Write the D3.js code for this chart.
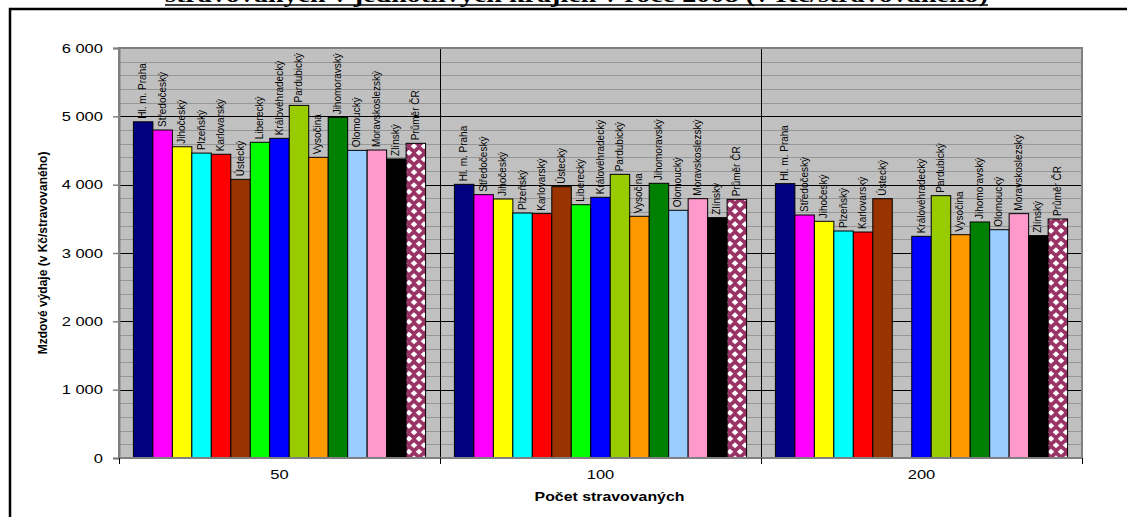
<!DOCTYPE html>
<html><head><meta charset="utf-8">
<script src="https://cdn.jsdelivr.net/npm/d3@7"></script>
<style>
html,body{margin:0;padding:0;background:#fff;overflow:hidden;}
svg{display:block;}
</style></head>
<body>
<svg id="chart" width="1127" height="517"></svg>
<script>
const categories = ["50", "100", "200"];
const regions = ["Hl. m. Praha","Středočeský","Jihočeský","Plzeňský","Karlovarský","Ústecký","Liberecký","Královéhradecký","Pardubický","Vysočina","Jihomoravský","Olomoucký","Moravskoslezský","Zlínský","Průměr ČR"];
const values50  = [4920, 4800, 4555, 4462, 4445, 4078, 4620, 4678, 5160, 4400, 4985, 4502, 4507, 4376, 4605];
const values100 = [4005, 3854, 3790, 3585, 3576, 3971, 3707, 3815, 4151, 3537, 4020, 3625, 3795, 3517, 3785];
const values200 = [4015, 3556, 3464, 3322, 3307, 3795, null, 3244, 3839, 3268, 3454, 3341, 3576, 3254, 3498];
const colors = ["#000080","#ff00ff","#ffff00","#00ffff","#ff0000","#993300","#00ff00","#0000ff","#99cc00","#ff9900","#008000","#99ccff","#ff99cc","#000000","url(#diam)"];
const yTicks = [0, 1000, 2000, 3000, 4000, 5000, 6000];
const yMinor = d3.range(0, 6001, 200);
const titleText = "stravovaných v jednotlivých krajích v roce 2008 (v Kč/stravovaného)";
const yTitle = "Mzdové výdaje (v Kč/stravovaného)";
const xTitle = "Počet stravovaných";

const seriesValues = [values50, values100, values200];
const svg = d3.select("#chart");
const L = 119, R = 1082, T = 48, B = 458;
const SANS = "Liberation Sans, Arial, sans-serif";

function stretch(sel, k){
  sel.each(function(){
    const w = this.getComputedTextLength();
    d3.select(this).attr("textLength", w*k).attr("lengthAdjust","spacingAndGlyphs");
  });
}

// pattern
const defs = svg.append("defs");
const pat = defs.append("pattern").attr("id","diam").attr("patternUnits","userSpaceOnUse")
  .attr("width",10).attr("height",13);
pat.append("rect").attr("width",10).attr("height",13).attr("fill","#993366");
[[5,3.25],[0,9.75],[10,9.75],[0,-3.25],[10,-3.25],[5,16.25]].forEach(([cx,cy])=>{
  pat.append("polygon").attr("fill","#fff")
    .attr("points",`${cx},${cy-3} ${cx+3.3},${cy} ${cx},${cy+3} ${cx-3.3},${cy}`);
});

// frame
svg.append("rect").attr("x",10).attr("y",9).attr("width",1300).attr("height",700)
  .attr("fill","none").attr("stroke","#000").attr("stroke-width",2.5);

// title (mostly cut off at the top, as in the source)
svg.append("text").attr("x",165).attr("y",1.5).attr("textLength",823).attr("lengthAdjust","spacingAndGlyphs")
  .attr("font-family","Liberation Serif, Times New Roman, serif").attr("font-size",20).attr("font-weight","bold")
  .text(titleText);
svg.append("line").attr("x1",165).attr("x2",988).attr("y1",5).attr("y2",5).attr("stroke","#000").attr("stroke-width",1.5);

const y = d3.scaleLinear().domain([0,6000]).range([B,T]);
const x0 = d3.scaleBand().domain(categories).range([L,R]).paddingInner(0).paddingOuter(0);
const x1 = d3.scaleBand().domain(regions).range([0,x0.bandwidth()]).paddingInner(0).paddingOuter(0.74);

// plot background
svg.append("rect").attr("x",L).attr("y",T).attr("width",R-L).attr("height",B-T).attr("fill","#c0c0c0");
// minor grid
svg.append("g").selectAll("line").data(yMinor.filter(v=>v%1000!==0)).join("line")
  .attr("x1",L).attr("x2",R).attr("y1",d=>Math.round(y(d))+0.5).attr("y2",d=>Math.round(y(d))+0.5)
  .attr("stroke","#969696").attr("stroke-width",1);
// major grid
svg.append("g").selectAll("line").data(yTicks.filter(v=>v>0 && v<6000)).join("line")
  .attr("x1",L).attr("x2",R).attr("y1",d=>Math.round(y(d))+0.5).attr("y2",d=>Math.round(y(d))+0.5)
  .attr("stroke","#000").attr("stroke-width",1);
// vertical grid at group boundaries
svg.append("g").selectAll("line").data(categories.slice(1)).join("line")
  .attr("x1",d=>Math.round(x0(d))+0.5).attr("x2",d=>Math.round(x0(d))+0.5).attr("y1",T).attr("y2",B)
  .attr("stroke","#000").attr("stroke-width",1);

// bars
const groups = svg.append("g").selectAll("g").data(categories).join("g")
  .attr("transform",d=>`translate(${x0(d)},0)`);
groups.each(function(cat, ci){
  const g = d3.select(this);
  const data = regions.map((r,i)=>({r, i, v: seriesValues[ci][i]})).filter(d=>d.v!=null);
  g.selectAll("rect").data(data).join("rect")
    .attr("x",d=>x1(d.r)).attr("y",d=>y(d.v)).attr("width",x1.bandwidth()).attr("height",d=>B-y(d.v))
    .attr("fill",d=>colors[d.i]).attr("stroke","#000").attr("stroke-width",1);
  g.selectAll("text").data(data).join("text")
    .attr("transform",d=>`translate(${x1(d.r)+x1.bandwidth()/2-0.5},${y(d.v)-3}) rotate(-90)`)
    .attr("dy","0.35em").attr("text-anchor","start")
    .attr("font-family",SANS).attr("font-size",10).attr("fill","#000")
    .text(d=>d.r);
});

// plot border
svg.append("rect").attr("x",L).attr("y",T).attr("width",R-L).attr("height",B-T)
  .attr("fill","none").attr("stroke","#808080").attr("stroke-width",2);

// y axis
const fmt = d3.formatLocale({decimal:",",thousands:" ",grouping:[3],currency:["",""]}).format(",d");
const yAxis = svg.append("g").attr("transform",`translate(${L},0)`)
  .call(d3.axisLeft(y).tickValues(yTicks).tickFormat(fmt).tickSize(6).tickPadding(10));
yAxis.select(".domain").attr("stroke","#808080").attr("stroke-width",2);
yAxis.selectAll(".tick line").attr("stroke","#808080").attr("stroke-width",1.5);
yAxis.selectAll("text").attr("font-family",SANS).attr("font-size",13).attr("fill","#000").call(stretch,1.27);

// x axis
const xAxis = svg.append("g").attr("transform",`translate(0,${B})`)
  .call(d3.axisBottom(x0).tickSize(0).tickPadding(12));
xAxis.select(".domain").remove();
xAxis.selectAll("text").attr("font-family",SANS).attr("font-size",13).attr("fill","#000").call(stretch,1.27);
svg.append("g").selectAll("line").data(categories.map(c=>x0(c)).concat([R])).join("line")
  .attr("x1",d=>Math.round(d)+0.5).attr("x2",d=>Math.round(d)+0.5).attr("y1",B).attr("y2",B+6)
  .attr("stroke","#000").attr("stroke-width",1);

// axis titles
svg.append("text").attr("transform",`translate(47,${(T+B)/2}) rotate(-90)`).attr("text-anchor","middle")
  .attr("font-family",SANS).attr("font-size",12).attr("font-weight","bold")
  .text(yTitle);
svg.append("text").attr("x",(L+R)/2+9).attr("y",501).attr("text-anchor","middle")
  .attr("font-family",SANS).attr("font-size",13).attr("font-weight","bold")
  .text(xTitle).call(stretch,1.22);
</script>
</body></html>
